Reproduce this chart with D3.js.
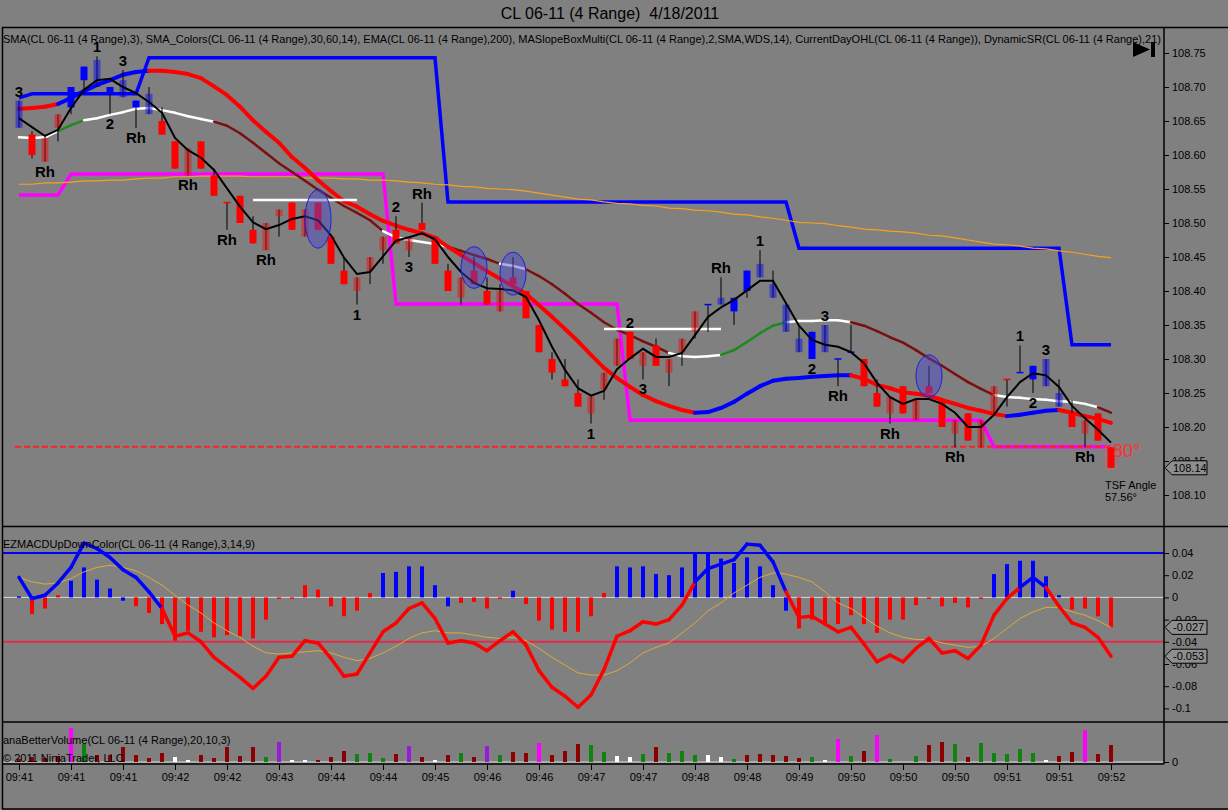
<!DOCTYPE html>
<html>
<head>
<meta charset="utf-8">
<title>CL 06-11 (4 Range) 4/18/2011</title>
<script src="https://cdn.jsdelivr.net/npm/d3@7"></script>
<style>
  body { margin: 0; background: #808080; }
  svg { display: block; font-family: "Liberation Sans", Arial, sans-serif; }
</style>
</head>
<body>
<svg width="1228" height="810"></svg>
<script>
// x axis: a label under every 4th bar
const tickBars = [0, 4, 8, 12, 16, 20, 24, 28, 32, 36, 40, 44, 48, 52, 56, 60, 64, 68, 72, 76, 80, 84];
const timeLabels = ["09:41", "09:41", "09:41", "09:42", "09:42", "09:43", "09:44", "09:44", "09:45", "09:46", "09:46",
    "09:47", "09:47", "09:48", "09:48", "09:49", "09:50", "09:50", "09:50", "09:51", "09:51", "09:52"];

// 4 range bars
const opens = [108.64, 108.63, 108.625, 108.66, 108.67, 108.71, 108.70, 108.69, 108.685, 108.67,
    108.66, 108.65, 108.62, 108.61, 108.62, 108.57, 108.53, 108.54, 108.49, 108.50,
    108.52, 108.53, 108.52, 108.53, 108.48, 108.43, 108.42, 108.45, 108.48, 108.49,
    108.48, 108.50, 108.48, 108.43, 108.42, 108.43, 108.40, 108.40, 108.42, 108.40,
    108.35, 108.30, 108.27, 108.25, 108.245, 108.28, 108.33, 108.34, 108.31, 108.32,
    108.30, 108.33, 108.37, 108.38, 108.38, 108.37, 108.40, 108.42, 108.39, 108.34,
    108.31, 108.30, 108.31, 108.30, 108.31, 108.30, 108.25, 108.245, 108.26, 108.24,
    108.26, 108.24, 108.21, 108.22, 108.21, 108.26, 108.27, 108.28, 108.27, 108.26,
    108.23, 108.22, 108.21, 108.22, 108.17];
const highs = [108.68, 108.635, 108.63, 108.66, 108.70, 108.73, 108.745, 108.70, 108.725, 108.68,
    108.70, 108.67, 108.62, 108.61, 108.62, 108.58, 108.53, 108.54, 108.51, 108.50,
    108.52, 108.53, 108.52, 108.53, 108.48, 108.45, 108.42, 108.45, 108.48, 108.51,
    108.48, 108.53, 108.48, 108.44, 108.42, 108.45, 108.42, 108.41, 108.45, 108.40,
    108.35, 108.31, 108.30, 108.27, 108.245, 108.28, 108.33, 108.34, 108.31, 108.33,
    108.30, 108.33, 108.37, 108.38, 108.42, 108.39, 108.43, 108.46, 108.43, 108.38,
    108.35, 108.34, 108.35, 108.30, 108.35, 108.30, 108.27, 108.245, 108.26, 108.24,
    108.29, 108.24, 108.21, 108.22, 108.21, 108.26, 108.27, 108.32, 108.29, 108.30,
    108.27, 108.24, 108.21, 108.22, 108.17];
const lows = [108.64, 108.595, 108.59, 108.62, 108.66, 108.69, 108.70, 108.66, 108.685, 108.64,
    108.66, 108.63, 108.58, 108.57, 108.58, 108.54, 108.49, 108.50, 108.47, 108.46,
    108.48, 108.49, 108.48, 108.49, 108.44, 108.41, 108.38, 108.41, 108.44, 108.47,
    108.45, 108.49, 108.44, 108.40, 108.38, 108.41, 108.38, 108.37, 108.41, 108.36,
    108.31, 108.27, 108.26, 108.23, 108.205, 108.24, 108.29, 108.30, 108.27, 108.29,
    108.26, 108.29, 108.33, 108.34, 108.38, 108.35, 108.39, 108.42, 108.39, 108.34,
    108.31, 108.30, 108.31, 108.26, 108.31, 108.26, 108.23, 108.205, 108.22, 108.21,
    108.25, 108.20, 108.17, 108.18, 108.17, 108.22, 108.23, 108.28, 108.25, 108.26,
    108.23, 108.20, 108.17, 108.18, 108.14];
const closes = [108.68, 108.60, 108.59, 108.64, 108.70, 108.73, 108.74, 108.70, 108.71, 108.68,
    108.69, 108.63, 108.58, 108.57, 108.58, 108.54, 108.53, 108.50, 108.47, 108.46,
    108.51, 108.49, 108.48, 108.49, 108.44, 108.41, 108.40, 108.43, 108.46, 108.47,
    108.46, 108.49, 108.44, 108.40, 108.39, 108.41, 108.38, 108.37, 108.41, 108.36,
    108.31, 108.28, 108.26, 108.23, 108.22, 108.255, 108.29, 108.30, 108.29, 108.29,
    108.28, 108.31, 108.34, 108.38, 108.39, 108.39, 108.43, 108.44, 108.41, 108.38,
    108.33, 108.34, 108.35, 108.30, 108.31, 108.26, 108.23, 108.22, 108.22, 108.21,
    108.25, 108.20, 108.19, 108.18, 108.17, 108.22, 108.27, 108.28, 108.29, 108.30,
    108.25, 108.20, 108.19, 108.18, 108.14];
// paint bar state: U/D = strong up/down, u/d = weak up/down
const barState = ("uDddUUuUuU" + "uDDdDDDDDd" + "dDdDDDdddD" + "dDDDdDDdDD" + "DDDDdddDdD" +
    "dddUuUUuuu" + "uUuUUDDdDd" + "DDdDddDUUu" + "uDdDD").split("");

// SMA(3)
const sma3 = [108.654, 108.641, 108.628, 108.637, 108.669, 108.696, 108.710, 108.712, 108.700, 108.691,
    108.678, 108.662, 108.625, 108.607, 108.596, 108.578, 108.551, 108.524, 108.501, 108.491,
    108.497, 108.506, 108.510, 108.504, 108.482, 108.449, 108.425, 108.428, 108.451, 108.474,
    108.479, 108.485, 108.476, 108.450, 108.428, 108.412, 108.404, 108.403, 108.401, 108.391,
    108.357, 108.318, 108.284, 108.257, 108.246, 108.253, 108.285, 108.301, 108.315, 108.303,
    108.303, 108.309, 108.335, 108.362, 108.376, 108.387, 108.401, 108.415, 108.415, 108.382,
    108.349, 108.328, 108.321, 108.318, 108.310, 108.294, 108.265, 108.244, 108.234, 108.241,
    108.241, 108.234, 108.221, 108.200, 108.200, 108.218, 108.244, 108.266, 108.279, 108.276,
    108.259, 108.231, 108.213, 108.196, 108.177];

// SMA_Colors(30,60,14) and its slope state: f flat, u up, d down
const smaColors = [108.626, 108.625, 108.626, 108.635, 108.644, 108.651, 108.654, 108.659, 108.663, 108.668,
    108.669, 108.666, 108.662, 108.657, 108.653, 108.649, 108.643, 108.632, 108.618, 108.603,
    108.588, 108.575, 108.562, 108.549, 108.537, 108.525, 108.515, 108.504, 108.488, 108.479,
    108.475, 108.472, 108.469, 108.465, 108.459, 108.453, 108.447, 108.440, 108.437, 108.432,
    108.422, 108.410, 108.396, 108.381, 108.368, 108.354, 108.343, 108.335, 108.326, 108.318,
    108.309, 108.304, 108.303, 108.304, 108.306, 108.313, 108.325, 108.338, 108.349, 108.354,
    108.356, 108.356, 108.357, 108.357, 108.354, 108.349, 108.341, 108.332, 108.324, 108.313,
    108.301, 108.290, 108.278, 108.266, 108.256, 108.247, 108.244, 108.243, 108.241, 108.240,
    108.238, 108.237, 108.234, 108.229, 108.221];
const smaColorState = ["ffff", "uu", "ffffffffff", "ddddddddddddd", "fffff", "dddd", "ff", "ddddddddddd",
    "ffff", "uuuuu", "fffff", "ddddddddddd", "ffffffff", "d"].join("").split("");

// EMA(200)
const ema200 = [108.557, 108.557, 108.559, 108.559, 108.560, 108.562, 108.562, 108.563, 108.563, 108.565,
    108.566, 108.566, 108.568, 108.568, 108.569, 108.569, 108.569, 108.569, 108.568, 108.568,
    108.568, 108.568, 108.566, 108.566, 108.566, 108.565, 108.565, 108.563, 108.563, 108.562,
    108.560, 108.559, 108.557, 108.556, 108.554, 108.553, 108.551, 108.550, 108.549, 108.547,
    108.544, 108.541, 108.538, 108.535, 108.534, 108.531, 108.529, 108.528, 108.526, 108.525,
    108.522, 108.521, 108.519, 108.518, 108.516, 108.513, 108.512, 108.509, 108.507, 108.504,
    108.501, 108.500, 108.499, 108.496, 108.494, 108.491, 108.490, 108.488, 108.487, 108.485,
    108.482, 108.481, 108.478, 108.475, 108.472, 108.469, 108.468, 108.466, 108.463, 108.462,
    108.459, 108.457, 108.454, 108.451, 108.449];

// MASlopeBoxMulti and its state: u rising (blue), d falling (red)
const maSlope = [108.668, 108.669, 108.671, 108.675, 108.684, 108.694, 108.703, 108.710, 108.718, 108.722,
    108.724, 108.724, 108.722, 108.719, 108.713, 108.701, 108.688, 108.671, 108.651, 108.634,
    108.618, 108.597, 108.581, 108.563, 108.547, 108.532, 108.524, 108.513, 108.503, 108.496,
    108.490, 108.485, 108.478, 108.465, 108.453, 108.441, 108.429, 108.418, 108.407, 108.396,
    108.379, 108.362, 108.344, 108.326, 108.306, 108.287, 108.272, 108.259, 108.247, 108.238,
    108.231, 108.225, 108.221, 108.222, 108.228, 108.237, 108.249, 108.260, 108.268, 108.271,
    108.272, 108.274, 108.275, 108.276, 108.276, 108.271, 108.262, 108.257, 108.251, 108.249,
    108.246, 108.240, 108.234, 108.228, 108.224, 108.219, 108.216, 108.218, 108.221, 108.224,
    108.225, 108.221, 108.216, 108.212, 108.206];
const maSlopeState = ["dddd", "uuuuuuu", "d".repeat(42), "u".repeat(12), "d".repeat(12), "uuuu", "dddd"]
    .join("").split("");

// CurrentDayOHL high / low
const dayHigh = [108.684].concat(Array(9).fill(108.69), Array(23).fill(108.743), Array(27).fill(108.531),
    Array(21).fill(108.463), Array(4).fill(108.321));
const dayLow = Array(4).fill(108.541).concat(Array(25).fill(108.572), Array(18).fill(108.381),
    Array(28).fill(108.21), Array(10).fill(108.171));

// DynamicSR levels
const srLevels = [{ from: 18, to: 26, price: 108.534 }, { from: 45, to: 54, price: 108.344 }];
const stopLevel = 108.171;

// swing labels
const swingBars = [0, 2, 6, 7, 8, 9, 13, 16, 19, 26, 29, 30, 31, 44, 47, 48, 54, 57, 61, 62, 63, 67, 72, 77, 78, 79, 82];
const swingTexts = ["3", "Rh", "1", "2", "3", "Rh", "Rh", "Rh", "Rh", "1", "2", "3", "Rh", "1", "2", "3", "Rh",
    "1", "2", "3", "Rh", "Rh", "Rh", "1", "2", "3", "Rh"];
const swingSides = ["above", "below", "above", "below", "above", "below", "below", "below", "below", "below",
    "above", "below", "above", "below", "above", "below", "above", "above", "below", "above",
    "below", "below", "below", "above", "below", "above", "below"];

// highlighted bars
const circles = [{ bar: 23, top: 108.549, bottom: 108.463 }, { bar: 35, top: 108.465, bottom: 108.404 },
    { bar: 38, top: 108.457, bottom: 108.394 }, { bar: 70, top: 108.306, bottom: 108.244 }];

// EZMACDUpDownColor(3,14,9)
const macd = [0.018, -0.001, 0.002, 0.013, 0.027, 0.049, 0.044, 0.036, 0.025, 0.018,
    0.005, -0.010, -0.035, -0.032, -0.040, -0.054, -0.063, -0.072, -0.082, -0.071,
    -0.054, -0.053, -0.039, -0.041, -0.055, -0.071, -0.069, -0.050, -0.031, -0.023,
    -0.010, -0.005, -0.019, -0.041, -0.039, -0.041, -0.048, -0.039, -0.031, -0.043,
    -0.066, -0.081, -0.089, -0.099, -0.088, -0.065, -0.035, -0.030, -0.022, -0.024,
    -0.020, -0.007, 0.014, 0.026, 0.030, 0.034, 0.048, 0.047, 0.032, 0.005,
    -0.018, -0.017, -0.024, -0.031, -0.027, -0.042, -0.058, -0.052, -0.058, -0.046,
    -0.037, -0.050, -0.048, -0.055, -0.043, -0.016, -0.001, 0.009, 0.018, 0.009,
    -0.008, -0.023, -0.027, -0.036, -0.053];
const macdState = ["u".repeat(12), "d".repeat(41), "u".repeat(7), "d".repeat(18), "uu", "ddddd"].join("").split("");
const signal = [0.018, 0.014, 0.012, 0.013, 0.017, 0.023, 0.027, 0.029, 0.027, 0.024,
    0.018, 0.011, 0.002, -0.007, -0.014, -0.023, -0.030, -0.036, -0.044, -0.050,
    -0.051, -0.050, -0.049, -0.048, -0.050, -0.054, -0.057, -0.055, -0.050, -0.044,
    -0.037, -0.032, -0.030, -0.032, -0.032, -0.034, -0.036, -0.037, -0.036, -0.039,
    -0.046, -0.054, -0.061, -0.068, -0.070, -0.070, -0.066, -0.059, -0.050, -0.045,
    -0.041, -0.032, -0.023, -0.012, -0.005, 0.004, 0.011, 0.018, 0.022, 0.021,
    0.018, 0.014, 0.005, -0.005, -0.010, -0.018, -0.026, -0.032, -0.036, -0.038,
    -0.038, -0.041, -0.043, -0.045, -0.044, -0.037, -0.028, -0.019, -0.013, -0.009,
    -0.009, -0.013, -0.016, -0.021, -0.027];
const histogram = [0.001, -0.015, -0.010, 0.002, 0.015, 0.027, 0.016, 0.008, -0.003, -0.008,
    -0.014, -0.024, -0.039, -0.030, -0.031, -0.036, -0.034, -0.035, -0.037, -0.020,
    -0.001, -0.001, 0.011, 0.007, -0.008, -0.017, -0.012, 0.004, 0.022, 0.023,
    0.028, 0.028, 0.011, -0.008, -0.005, -0.004, -0.010, 0, 0.006, -0.006,
    -0.021, -0.029, -0.031, -0.031, -0.017, 0.004, 0.028, 0.027, 0.028, 0.021,
    0.020, 0.027, 0.040, 0.040, 0.035, 0.031, 0.036, 0.028, 0.011, -0.012,
    -0.028, -0.020, -0.023, -0.024, -0.016, -0.024, -0.032, -0.020, -0.020, -0.007,
    -0.001, -0.008, -0.005, -0.009, -0.001, 0.021, 0.030, 0.033, 0.033, 0.019,
    0.002, -0.011, -0.010, -0.017, -0.027];
const histState = ["u", "ddd", "uuuuu", "d".repeat(19), "uuuuuu", "dddd", "u", "d".repeat(7), "u".repeat(14),
    "d".repeat(15), "uuuuuu", "dddd"].join("").split("");
const macdUpper = 0.04, macdLower = -0.04;
const macdTicks = [0.04, 0.02, 0, -0.02, -0.04, -0.06, -0.08, -0.1];
const macdTickLabels = ["0.04", "0.02", "0", "-0.02", "-0.04", "-0.06", "-0.08", "-0.1"];

// anaBetterVolume(20,10,3): c climax, p churn, g up, r down, w low volume
const volume = [30, 50, 40, 60, 340, 180, 70, 70, 150, 70,
    40, 90, 50, 20, 70, 40, 150, 60, 150, 50,
    200, 20, 20, 20, 50, 110, 80, 90, 40, 80,
    160, 50, 20, 70, 90, 50, 160, 70, 100, 90,
    190, 70, 110, 180, 170, 100, 60, 50, 80, 150,
    90, 110, 70, 70, 50, 30, 70, 80, 70, 60,
    40, 50, 20, 230, 60, 110, 270, 30, 0, 60,
    170, 200, 180, 50, 190, 90, 80, 130, 90, 20,
    60, 100, 320, 80, 170];
const volType = ("rrrrcgrrrr" + "rrwwrrrrrg" + "pwwrrrgggr" + "prwrgrpgrr" + "crrrggwwgr" +
    "gggwwgrrrr" + "rgwcgrcggg" + "rrgrgggggw" + "rrcrr").split("");

const priceTicks = [108.10, 108.15, 108.20, 108.25, 108.30, 108.35, 108.40, 108.45, 108.50, 108.55,
    108.60, 108.65, 108.70, 108.75];

// ---------------------------------------------------------------
const svg = d3.select("svg");
const W = 1228, axisX = 1164;
const RED = "#ff0000", BLUE = "#0000ff";

const x = d3.scaleLinear().domain([0, 84]).range([19, 1111]);
const yP = d3.scaleLinear().domain([108.10, 108.75]).range([495, 53]);
const yM = d3.scaleLinear().domain([-0.1, 0.04]).range([708.4, 553]);
const yV = d3.scaleLinear().domain([0, 340]).range([762, 728]);

svg.append("rect").attr("width", W).attr("height", 810).attr("fill", "#808080");

const defs = svg.append("defs");
defs.append("clipPath").attr("id", "clipMain").append("rect")
    .attr("x", 3).attr("y", 28).attr("width", axisX - 3).attr("height", 498);
defs.append("clipPath").attr("id", "clipMacd").append("rect")
    .attr("x", 3).attr("y", 527).attr("width", axisX - 3).attr("height", 194);

// title (two spaces kept)
svg.append("text").attr("x", 610).attr("y", 19).attr("text-anchor", "middle")
    .attr("font-size", 16).attr("xml:space", "preserve").style("white-space", "pre")
    .text("CL 06-11 (4 Range)  4/18/2011");

// helper: line coloured per segment by state of its end bar
function segLine(g, values, states, yScale, colors, width) {
    g.selectAll(null).data(d3.range(1, values.length)).join("line")
        .attr("x1", i => x(i - 1)).attr("y1", i => yScale(values[i - 1]))
        .attr("x2", i => x(i)).attr("y2", i => yScale(values[i]))
        .attr("stroke", i => colors[states[i]])
        .attr("stroke-width", width)
        .attr("stroke-linecap", "round");
}
const lineOf = (yScale) => d3.line().x((d, i) => x(i)).y(d => yScale(d));

// ---------------- price panel ----------------
const main = svg.append("g").attr("clip-path", "url(#clipMain)");

main.append("path").datum(dayHigh).attr("d", lineOf(yP))
    .attr("fill", "none").attr("stroke", BLUE).attr("stroke-width", 3.5);
main.append("path").datum(dayLow).attr("d", lineOf(yP))
    .attr("fill", "none").attr("stroke", "#ff00ff").attr("stroke-width", 3.5);
main.append("path").datum(ema200).attr("d", lineOf(yP))
    .attr("fill", "none").attr("stroke", "#f5a020").attr("stroke-width", 1.2);

main.append("line").attr("x1", 15).attr("x2", x(84)).attr("y1", yP(stopLevel)).attr("y2", yP(stopLevel))
    .attr("stroke", "#ff2020").attr("stroke-width", 2).attr("stroke-dasharray", "6,3");

segLine(main.append("g"), smaColors, smaColorState, yP, { f: "#ffffff", u: "#1c8a1c", d: "#7a1010" }, 2.5);
segLine(main.append("g"), maSlope, maSlopeState, yP, { u: BLUE, d: RED }, 4);

main.selectAll(".sr").data(srLevels).join("line").attr("class", "sr")
    .attr("x1", d => x(d.from)).attr("x2", d => x(d.to))
    .attr("y1", d => yP(d.price)).attr("y2", d => yP(d.price))
    .attr("stroke", "#ffffff").attr("stroke-width", 2.5);

// TSF angle text, under the live bar
svg.append("text").attr("x", 1113).attr("y", 457).attr("font-size", 18).attr("fill", "#ff3030").text("80°");

// candles
const bars = d3.range(opens.length);
const candles = main.append("g");
candles.selectAll(".wick").data(bars).join("line").attr("class", "wick")
    .attr("x1", i => x(i)).attr("x2", i => x(i))
    .attr("y1", i => yP(highs[i])).attr("y2", i => yP(lows[i]))
    .attr("stroke", "#000").attr("stroke-width", 1);
const barColor = i => (barState[i].toLowerCase() === "u" ? BLUE : RED);
const isWeak = i => barState[i] === barState[i].toLowerCase();
candles.selectAll(".body").data(bars.filter(i => opens[i] !== closes[i])).join("rect").attr("class", "body")
    .attr("x", i => x(i) - 3.5).attr("width", 7)
    .attr("y", i => yP(Math.max(opens[i], closes[i])))
    .attr("height", i => Math.abs(yP(opens[i]) - yP(closes[i])))
    .attr("fill", barColor)
    .attr("fill-opacity", i => (isWeak(i) ? 0.45 : 1));
candles.selectAll(".doji").data(bars.filter(i => opens[i] === closes[i])).join("line").attr("class", "doji")
    .attr("x1", i => x(i) - 3.5).attr("x2", i => x(i) + 3.5)
    .attr("y1", i => yP(opens[i])).attr("y2", i => yP(opens[i]))
    .attr("stroke", barColor).attr("stroke-width", 1.5);
// live bar outline
const last = opens.length - 1;
candles.append("rect")
    .attr("x", x(last) - 5.5).attr("width", 11)
    .attr("y", yP(highs[last]) - 1).attr("height", yP(lows[last]) - yP(highs[last]) + 2)
    .attr("fill", "none").attr("stroke", "#ff5050").attr("stroke-width", 1).attr("stroke-dasharray", "2,2");

main.append("path").datum(sma3).attr("d", lineOf(yP))
    .attr("fill", "none").attr("stroke", "#000").attr("stroke-width", 2);

main.selectAll(".circ").data(circles).join("ellipse").attr("class", "circ")
    .attr("cx", d => x(d.bar)).attr("cy", d => (yP(d.top) + yP(d.bottom)) / 2)
    .attr("rx", 13).attr("ry", d => (yP(d.bottom) - yP(d.top)) / 2)
    .attr("fill", "#4646d2").attr("fill-opacity", 0.45)
    .attr("stroke", "#1e1ee0").attr("stroke-width", 1);

main.selectAll(".swing").data(swingBars).join("text").attr("class", "swing")
    .attr("x", b => x(b)).attr("text-anchor", "middle")
    .attr("y", (b, k) => (swingSides[k] === "above" ? yP(highs[b]) - 4 : yP(lows[b]) + 15))
    .attr("font-size", 15).attr("font-weight", "bold").attr("fill", "#000")
    .text((b, k) => swingTexts[k]);

svg.append("text").attr("x", 3).attr("y", 43).attr("font-size", 11)
    .attr("textLength", 1158).attr("lengthAdjust", "spacingAndGlyphs")
    .text("SMA(CL 06-11 (4 Range),3), SMA_Colors(CL 06-11 (4 Range),30,60,14), EMA(CL 06-11 (4 Range),200), " +
        "MASlopeBoxMulti(CL 06-11 (4 Range),2,SMA,WDS,14), CurrentDayOHL(CL 06-11 (4 Range)), DynamicSR(CL 06-11 (4 Range),21)");

svg.append("text").attr("x", 1105).attr("y", 489).attr("font-size", 11).text("TSF Angle");
svg.append("text").attr("x", 1105).attr("y", 501).attr("font-size", 11).text("57.56°");

// scroll-to-end icon
svg.append("path").attr("d", "M1133,42 L1150,49.5 L1133,57 Z").attr("fill", "#000");
svg.append("rect").attr("x", 1151).attr("y", 42).attr("width", 4).attr("height", 15).attr("fill", "#000");

// ---------------- MACD panel ----------------
const mg = svg.append("g").attr("clip-path", "url(#clipMacd)");
mg.append("line").attr("x1", 3).attr("x2", axisX).attr("y1", yM(0)).attr("y2", yM(0))
    .attr("stroke", "#d8d8d8").attr("stroke-width", 1);
mg.append("line").attr("x1", 3).attr("x2", axisX).attr("y1", yM(macdUpper)).attr("y2", yM(macdUpper))
    .attr("stroke", BLUE).attr("stroke-width", 2);
mg.append("line").attr("x1", 3).attr("x2", axisX).attr("y1", yM(macdLower)).attr("y2", yM(macdLower))
    .attr("stroke", "#e8284a").attr("stroke-width", 2);
mg.selectAll(".hist").data(bars).join("rect").attr("class", "hist")
    .attr("x", i => x(i) - 2).attr("width", 4)
    .attr("y", i => yM(Math.max(0, histogram[i])))
    .attr("height", i => Math.max(1.5, Math.abs(yM(histogram[i]) - yM(0))))
    .attr("fill", i => (histState[i] === "u" ? BLUE : RED));
mg.append("path").datum(signal).attr("d", lineOf(yM))
    .attr("fill", "none").attr("stroke", "#dcaa3c").attr("stroke-width", 1);
segLine(mg.append("g"), macd, macdState, yM, { u: BLUE, d: RED }, 3.5);

svg.append("text").attr("x", 3).attr("y", 548).attr("font-size", 11)
    .text("EZMACDUpDownColor(CL 06-11 (4 Range),3,14,9)");

// ---------------- volume panel ----------------
svg.append("line").attr("x1", 3).attr("x2", axisX).attr("y1", yV(0)).attr("y2", yV(0))
    .attr("stroke", "#d8d8d8").attr("stroke-width", 1);
const volColors = { c: "#ff00ff", p: "#9a1ad6", g: "#0f820f", r: "#8b0000", w: "#ffffff" };
svg.append("g").selectAll("rect").data(bars.filter(i => volume[i] > 0)).join("rect")
    .attr("x", i => x(i) - 2).attr("width", 4)
    .attr("y", i => yV(volume[i])).attr("height", i => yV(0) - yV(volume[i]))
    .attr("fill", i => volColors[volType[i]]);
svg.append("text").attr("x", 3).attr("y", 744).attr("font-size", 11)
    .text("anaBetterVolume(CL 06-11 (4 Range),20,10,3)");
svg.append("text").attr("x", 3).attr("y", 762).attr("font-size", 11).text("© 2011 NinjaTrader, LLC");

// ---------------- frame ----------------
const frame = svg.append("g").attr("stroke", "#000").attr("stroke-width", 1.5);
frame.append("line").attr("x1", 2).attr("x2", W).attr("y1", 27.5).attr("y2", 27.5);
frame.append("line").attr("x1", 2.5).attr("x2", 2.5).attr("y1", 27).attr("y2", 809);
frame.append("line").attr("x1", 2).attr("x2", W).attr("y1", 526.5).attr("y2", 526.5);
frame.append("line").attr("x1", 2).attr("x2", W).attr("y1", 722).attr("y2", 722);
frame.append("line").attr("x1", 2).attr("x2", axisX).attr("y1", 764).attr("y2", 764);
frame.append("line").attr("x1", 2).attr("x2", W).attr("y1", 809).attr("y2", 809);
frame.append("line").attr("x1", axisX).attr("x2", axisX).attr("y1", 27).attr("y2", 764);

// ---------------- axes ----------------
function styleAxis(g) {
    g.select(".domain").remove();
    g.selectAll("text").attr("font-family", "Liberation Sans, Arial, sans-serif")
        .attr("font-size", 11).attr("fill", "#000");
    g.selectAll("line").attr("stroke", "#000");
}
svg.append("g").attr("transform", `translate(${axisX},0)`)
    .call(d3.axisRight(yP).tickValues(priceTicks).tickSize(5).tickPadding(3).tickFormat(d3.format(".2f")))
    .call(styleAxis);
svg.append("g").attr("transform", `translate(${axisX},0)`)
    .call(d3.axisRight(yM).tickValues(macdTicks).tickSize(5).tickPadding(3)
        .tickFormat((d, i) => macdTickLabels[i]))
    .call(styleAxis);
svg.append("g").attr("transform", `translate(${axisX},0)`)
    .call(d3.axisRight(yV).tickValues([0]).tickSize(5).tickPadding(3).tickFormat(() => "0"))
    .call(styleAxis);
svg.append("g").attr("transform", "translate(0,764)")
    .call(d3.axisBottom(x).tickValues(tickBars).tickSize(6).tickPadding(3)
        .tickFormat((d, i) => timeLabels[i]))
    .call(styleAxis);

// last value markers
const fmt = d => d.replace("\u2212", "-");
function marker(y, label) {
    const g = svg.append("g");
    g.append("path")
        .attr("d", `M${axisX + 1},${y} L${axisX + 8},${y - 7} L${axisX + 43},${y - 7} L${axisX + 43},${y + 7} L${axisX + 8},${y + 7} Z`)
        .attr("fill", "#8e8e8e").attr("stroke", "#000").attr("stroke-width", 1);
    g.append("text").attr("x", axisX + 9).attr("y", y + 4).attr("font-size", 11).attr("fill", "#000").text(label);
}
marker(yP(closes[last]), d3.format(".2f")(closes[last]));
marker(yM(signal[last]), fmt(d3.format(".3f")(signal[last])));
marker(yM(macd[last]), fmt(d3.format(".3f")(macd[last])));
</script>
</body>
</html>
